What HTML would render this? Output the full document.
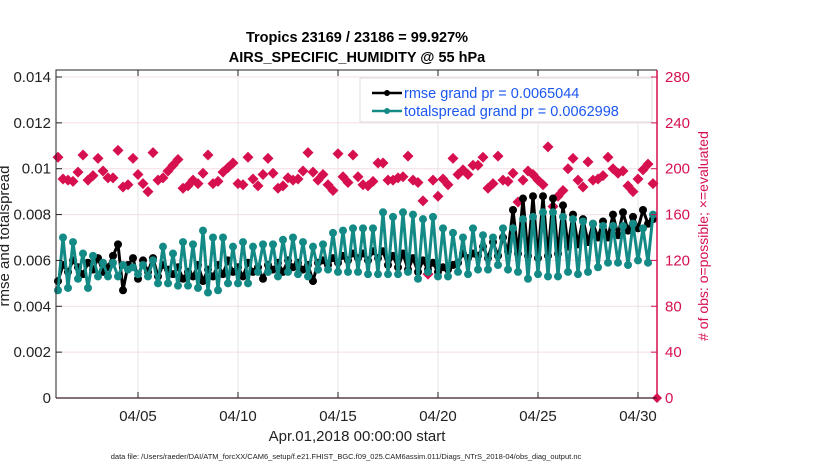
<!DOCTYPE html>
<html><head><meta charset="utf-8"><style>
body{margin:0;background:#fff;}
svg{display:block;font-family:"Liberation Sans",Arial,sans-serif;}
</style></head><body>
<svg id="chart" width="830" height="470" viewBox="0 0 830 470">
<text x="357" y="42" text-anchor="middle" font-size="14.5" font-weight="bold">Tropics 23169 / 23186 = 99.927%</text>
<text x="357" y="62" text-anchor="middle" font-size="14.5" font-weight="bold">AIRS_SPECIFIC_HUMIDITY @ 55 hPa</text>
<g id="grid"></g>
<g id="series"></g>
<g id="axes"></g>
<text transform="translate(9,236) rotate(-90)" text-anchor="middle" font-size="15" fill="#222">rmse and totalspread</text>
<text transform="translate(708,236) rotate(-90)" text-anchor="middle" font-size="14" fill="#d6104f"># of obs: o=possible; ×=evaluated</text>
<text x="357" y="441" text-anchor="middle" font-size="15" fill="#222">Apr.01,2018 00:00:00 start</text>
<text x="346" y="459" text-anchor="middle" font-size="7.5" fill="#222">data file: /Users/raeder/DAI/ATM_forcXX/CAM6_setup/f.e21.FHIST_BGC.f09_025.CAM6assim.011/Diags_NTrS_2018-04/obs_diag_output.nc</text>
<g>
<rect x="360" y="78" width="292" height="44" fill="#fff" stroke="#ddd"/>
<line x1="372" y1="93" x2="402" y2="93" stroke="#000" stroke-width="2.5"/>
<circle cx="387" cy="93" r="3" fill="#000"/>
<text x="404" y="98" font-size="14.5" fill="#1a56f0">rmse grand pr = 0.0065044</text>
<line x1="372" y1="111" x2="402" y2="111" stroke="#138a86" stroke-width="2.5"/>
<circle cx="387" cy="111" r="3" fill="#138a86"/>
<text x="404" y="116" font-size="14.5" fill="#1a56f0">totalspread grand pr = 0.0062998</text>
</g>
</svg>
<script>
const xTickDays=[4,9,14,19,24,29];
const xTickLabels=["04/05","04/10","04/15","04/20","04/25","04/30"];
const yLeftTicks=[0,0.002,0.004,0.006,0.008,0.01,0.012,0.014];
const yLeftLabels=["0","0.002","0.004","0.006","0.008","0.01","0.012","0.014"];
const yRightTicks=[0,40,80,120,160,200,240,280];
const stepDays=0.25;
const rmse=[0.0051,0.0058,0.0055,0.0060,0.0057,0.0054,0.0059,0.0056,0.0061,0.0055,
0.0057,0.0062,0.0067,0.0047,0.0058,0.0061,0.0052,0.0060,0.0055,0.0061,
0.0053,0.0058,0.0056,0.0054,0.0057,0.0052,0.0055,0.0053,0.0058,0.0051,
0.0056,0.0053,0.0058,0.0054,0.0060,0.0055,0.0057,0.0053,0.0059,0.0055,
0.0057,0.0052,0.0058,0.0056,0.0059,0.0055,0.0060,0.0057,0.0059,0.0056,
0.0058,0.0051,0.0059,0.0060,0.0058,0.0061,0.0059,0.0062,0.0060,0.0063,
0.0061,0.0063,0.0060,0.0064,0.0061,0.0064,0.0058,0.0062,0.0057,0.0063,
0.0056,0.0061,0.0055,0.0060,0.0056,0.0059,0.0055,0.0057,0.0056,0.0058,
0.0059,0.0063,0.0061,0.0063,0.0062,0.0066,0.0061,0.0068,0.0062,0.0070,
0.0064,0.0082,0.0063,0.0087,0.0062,0.0088,0.0061,0.0088,0.0062,0.0087,
0.0063,0.0084,0.0066,0.0080,0.0067,0.0078,0.0068,0.0076,0.0070,0.0077,
0.0070,0.0080,0.0071,0.0081,0.0073,0.0079,0.0074,0.0082,0.0076,0.0078];
const spread=[0.0047,0.0070,0.0048,0.0068,0.0052,0.0063,0.0048,0.0062,0.0053,0.0059,
0.0053,0.0059,0.0053,0.0058,0.0056,0.0057,0.0054,0.0058,0.0053,0.0060,
0.0050,0.0066,0.0050,0.0063,0.0049,0.0068,0.0049,0.0067,0.0048,0.0073,
0.0046,0.0070,0.0047,0.0070,0.0050,0.0066,0.0050,0.0068,0.0050,0.0066,
0.0055,0.0067,0.0055,0.0067,0.0053,0.0069,0.0055,0.0070,0.0054,0.0068,
0.0053,0.0066,0.0056,0.0067,0.0056,0.0072,0.0055,0.0073,0.0055,0.0074,
0.0055,0.0074,0.0054,0.0074,0.0054,0.0081,0.0054,0.0079,0.0054,0.0081,
0.0055,0.0080,0.0052,0.0078,0.0055,0.0079,0.0053,0.0074,0.0053,0.0072,
0.0055,0.0070,0.0054,0.0074,0.0056,0.0071,0.0056,0.0070,0.0058,0.0074,
0.0056,0.0074,0.0055,0.0078,0.0052,0.0079,0.0054,0.0081,0.0053,0.0081,
0.0053,0.0079,0.0055,0.0078,0.0054,0.0077,0.0055,0.0076,0.0057,0.0075,
0.0059,0.0075,0.0059,0.0075,0.0058,0.0076,0.0060,0.0074,0.0059,0.0080];
const obsCount=[210,191,190,189,197,212,190,194,209,198,
192,192,216,184,186,209,195,187,180,214,
190,192,198,203,208,183,185,190,187,196,
212,187,189,197,201,205,187,186,210,191,
185,195,209,196,183,185,192,190,191,198,
214,197,190,195,186,181,213,193,188,212,
193,186,185,189,205,205,190,190,192,193,
211,190,188,172,108,190,176,191,186,209,
195,199,195,203,203,210,183,187,211,190,
189,196,171,190,198,195,190,186,219,167,
176,181,200,209,190,184,206,190,191,194,
210,200,196,198,185,180,191,199,204,187];

const NS="http://www.w3.org/2000/svg";
const L=56,R=657,T=70,B=398;
function xs(d){return 58+20*d;}
function yl(v){return 398-v*(398-77)/0.014;}
function yr(v){return 398-v*(398-77)/280;}
function mk(parent,tag,attrs){const e=document.createElementNS(NS,tag);for(const k in attrs)e.setAttribute(k,attrs[k]);parent.appendChild(e);return e;}
const grid=document.getElementById('grid'),ser=document.getElementById('series'),ax=document.getElementById('axes');
mk(grid,'rect',{x:L,y:T,width:R-L,height:B-T,fill:'#fff'});
xTickDays.forEach((d,i)=>{
 const g=mk(grid,'line',{x1:xs(d),x2:xs(d),y1:T,y2:B,stroke:'#e4e4e4','stroke-width':1});
 
 
 const t=mk(ax,'line',{x1:xs(d),x2:xs(d),y1:B,y2:B-6,stroke:'#222'});
 
 
 const t2=mk(ax,'line',{x1:xs(d),x2:xs(d),y1:T,y2:T+6,stroke:'#222'});
 
 
 const lb=mk(ax,'text',{x:xs(d),y:B+23,'text-anchor':'middle','font-size':15,fill:'#222'});
 lb.textContent=xTickLabels[i];
 
 
});
yLeftTicks.forEach((v,i)=>{
 const g=mk(grid,'line',{x1:L,x2:R,y1:yl(v),y2:yl(v),stroke:'#f3dde4','stroke-width':1});
 
 
 const t=mk(ax,'line',{x1:L,x2:L+6,y1:yl(v),y2:yl(v),stroke:'#222'});
 
 
 const lb=mk(ax,'text',{x:51,y:yl(v)+5,'text-anchor':'end','font-size':15,fill:'#222'});
 lb.textContent=yLeftLabels[i];
 
 
});
yRightTicks.forEach(v=>{
 const t=mk(ax,'line',{x1:R-6,x2:R,y1:yr(v),y2:yr(v),stroke:'#d6104f'});
 
 
 const lb=mk(ax,'text',{x:665,y:yr(v)+5,'font-size':15,fill:'#d6104f'});
 lb.textContent=String(v);
 
 
});
obsCount.forEach((v,i)=>{
 const x=xs(i*stepDays),y=yr(v),s=5.5;
 const p=mk(ser,'path',{d:`M${x} ${y-s}L${x+s} ${y}L${x} ${y+s}L${x-s} ${y}Z`,fill:'#d6104f'});
 
 
});
function line(arr,color,name){
 const pts=arr.map((v,i)=>xs(i*stepDays)+','+yl(v)).join(' ');
 const pl=mk(ser,'polyline',{points:pts,fill:'none',stroke:color,'stroke-width':3,'stroke-linejoin':'round'});
 
 
 arr.forEach((v,i)=>{
  const c=mk(ser,'circle',{cx:xs(i*stepDays),cy:yl(v),r:4,fill:color});
  
  
 });
}
line(rmse,'#000','rmse');
line(spread,'#138a86','totalspread');
const z=mk(ser,'path',{d:`M${R} ${B-5}L${R+5} ${B}L${R} ${B+5}L${R-5} ${B}Z`,fill:'#d6104f'});


const fr1=mk(ax,'path',{d:`M${L} ${B}V${T}H${R}`,fill:'none',stroke:'#222','stroke-width':1});


const xb=mk(ax,'line',{x1:L,x2:R,y1:B,y2:B,stroke:'#3a1a24','stroke-width':1.2});


const rax=mk(ax,'line',{x1:R,x2:R,y1:T,y2:B,stroke:'#d6104f','stroke-width':1.5});


</script>
</body></html>
